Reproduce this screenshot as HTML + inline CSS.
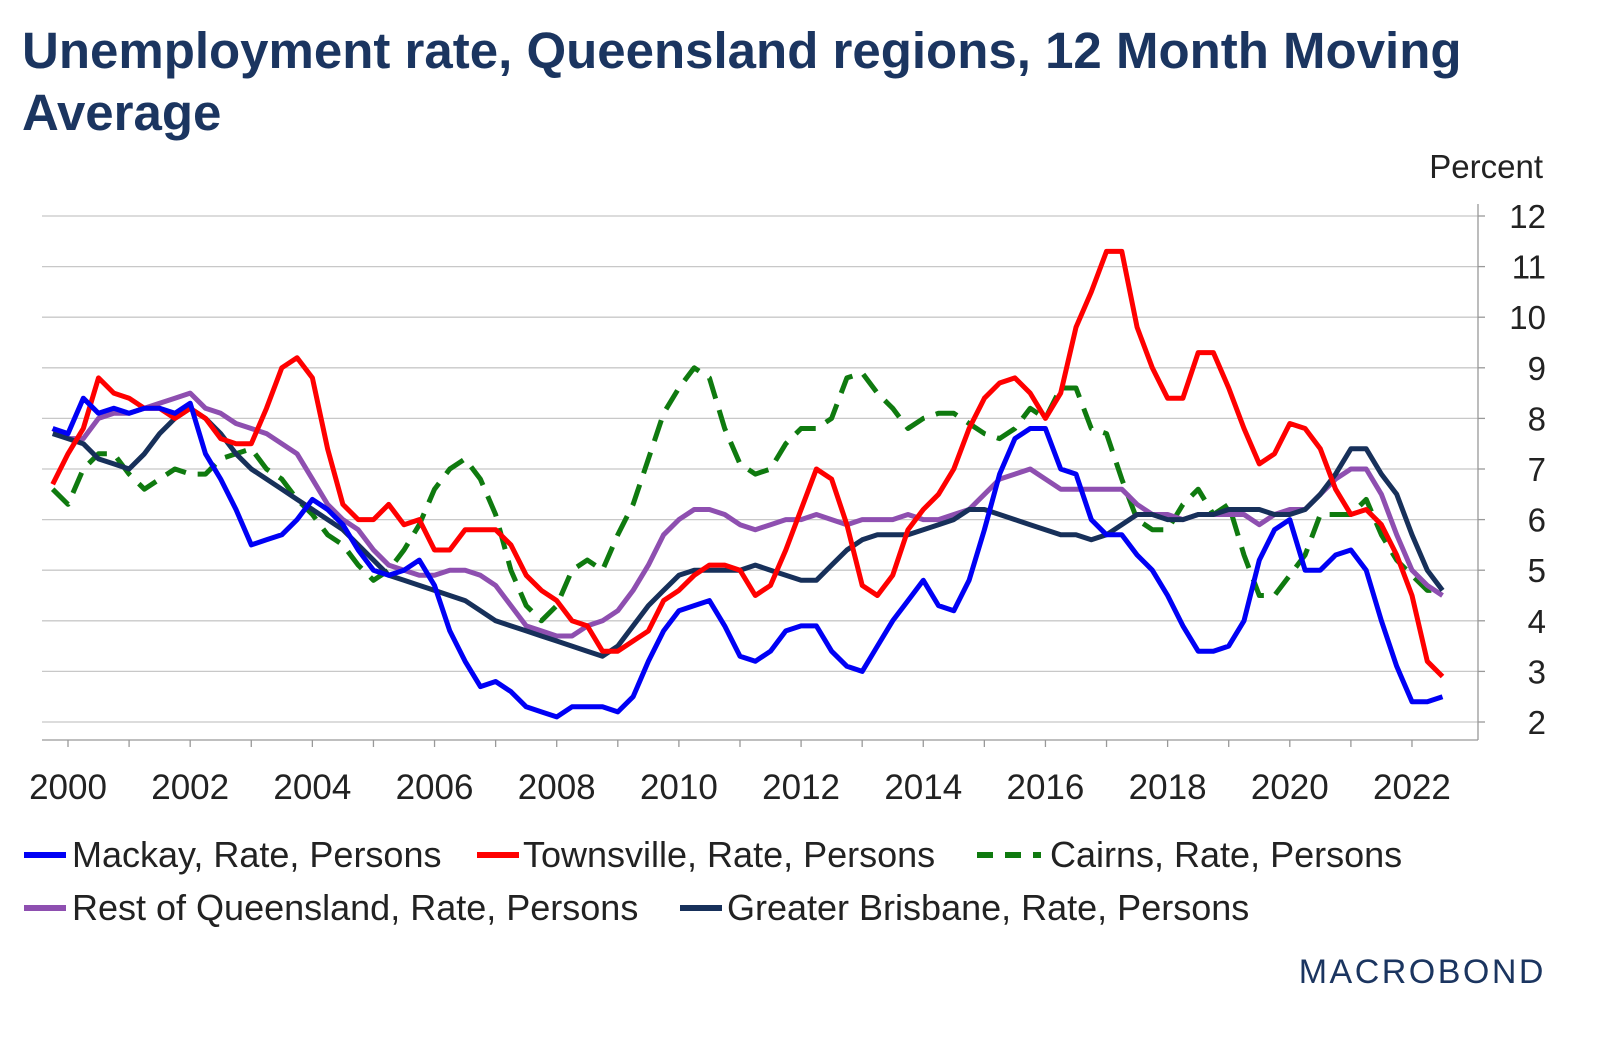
<!DOCTYPE html>
<html><head><meta charset="utf-8"><style>
body{margin:0;background:#fff;font-family:"Liberation Sans",Arial,sans-serif;}
#wrap{position:relative;width:1600px;height:1040px;overflow:hidden;}
h1{position:absolute;left:22px;top:20px;margin:0;font-size:51px;line-height:62px;font-weight:bold;color:#1b3560;width:1540px;}
</style></head><body>
<div id="wrap">
<h1>Unemployment rate, Queensland regions, 12 Month Moving Average</h1>
<svg id="chart" width="1600" height="1040" style="position:absolute;left:0;top:0"></svg>
</div>
<script>
const startYear=1999.75, step=0.25;
const mackay=[7.8,
7.7,8.4,8.1,8.2, 8.1,8.2,8.2,8.1, 8.3,7.3,6.8,6.2, 5.5,5.6,5.7,6.0, 6.4,6.2,5.9,5.4, 5.0,4.9,5.0,5.2, 4.7,3.8,3.2,2.7, 2.8,2.6,2.3,2.2, 2.1,2.3,2.3,2.3, 2.2,2.5,3.2,3.8, 4.2,4.3,4.4,3.9, 3.3,3.2,3.4,3.8, 3.9,3.9,3.4,3.1, 3.0,3.5,4.0,4.4, 4.8,4.3,4.2,4.8, 5.8,6.9,7.6,7.8, 7.8,7.0,6.9,6.0, 5.7,5.7,5.3,5.0, 4.5,3.9,3.4,3.4, 3.5,4.0,5.2,5.8, 6.0,5.0,5.0,5.3, 5.4,5.0,4.0,3.1,
2.4,2.4,2.5];
const townsville=[6.7,
7.3,7.8,8.8,8.5, 8.4,8.2,8.2,8.0, 8.2,8.0,7.6,7.5, 7.5,8.2,9.0,9.2, 8.8,7.4,6.3,6.0, 6.0,6.3,5.9,6.0, 5.4,5.4,5.8,5.8, 5.8,5.5,4.9,4.6, 4.4,4.0,3.9,3.4, 3.4,3.6,3.8,4.4, 4.6,4.9,5.1,5.1, 5.0,4.5,4.7,5.4, 6.2,7.0,6.8,5.9, 4.7,4.5,4.9,5.8, 6.2,6.5,7.0,7.8, 8.4,8.7,8.8,8.5, 8.0,8.5,9.8,10.5, 11.3,11.3,9.8,9.0, 8.4,8.4,9.3,9.3, 8.6,7.8,7.1,7.3, 7.9,7.8,7.4,6.6, 6.1,6.2,5.9,5.3,
4.5,3.2,2.9];
const cairns=[6.6,
6.3,7.0,7.3,7.3, 6.9,6.6,6.8,7.0, 6.9,6.9,7.2,7.3, 7.4,7.0,6.8,6.4, 6.1,5.7,5.5,5.1, 4.8,5.0,5.4,5.9, 6.6,7.0,7.2,6.8, 6.1,5.0,4.3,4.0, 4.3,5.0,5.2,5.0, 5.7,6.3,7.2,8.1, 8.6,9.0,8.8,7.8, 7.1,6.9,7.0,7.5, 7.8,7.8,8.0,8.8, 8.9,8.5,8.2,7.8, 8.0,8.1,8.1,7.9, 7.7,7.6,7.8,8.2, 8.0,8.6,8.6,7.8, 7.7,6.8,6.0,5.8, 5.8,6.3,6.6,6.1, 6.3,5.3,4.5,4.5, 4.9,5.3,6.1,6.1, 6.1,6.4,5.7,5.2,
4.9,4.6,4.6];
const restQld=[7.8,
7.6,7.6,8.0,8.1, 8.1,8.2,8.3,8.4, 8.5,8.2,8.1,7.9, 7.8,7.7,7.5,7.3, 6.8,6.3,6.0,5.8, 5.4,5.1,5.0,4.9, 4.9,5.0,5.0,4.9, 4.7,4.3,3.9,3.8, 3.7,3.7,3.9,4.0, 4.2,4.6,5.1,5.7, 6.0,6.2,6.2,6.1, 5.9,5.8,5.9,6.0, 6.0,6.1,6.0,5.9, 6.0,6.0,6.0,6.1, 6.0,6.0,6.1,6.2, 6.5,6.8,6.9,7.0, 6.8,6.6,6.6,6.6, 6.6,6.6,6.3,6.1, 6.1,6.0,6.1,6.1, 6.1,6.1,5.9,6.1, 6.2,6.2,6.5,6.8, 7.0,7.0,6.5,5.7,
5.0,4.7,4.5];
const brisbane=[7.7,
7.6,7.5,7.2,7.1, 7.0,7.3,7.7,8.0, 8.2,8.0,7.7,7.3, 7.0,6.8,6.6,6.4, 6.2,6.0,5.8,5.5, 5.2,4.9,4.8,4.7, 4.6,4.5,4.4,4.2, 4.0,3.9,3.8,3.7, 3.6,3.5,3.4,3.3, 3.5,3.9,4.3,4.6, 4.9,5.0,5.0,5.0, 5.0,5.1,5.0,4.9, 4.8,4.8,5.1,5.4, 5.6,5.7,5.7,5.7, 5.8,5.9,6.0,6.2, 6.2,6.1,6.0,5.9, 5.8,5.7,5.7,5.6, 5.7,5.9,6.1,6.1, 6.0,6.0,6.1,6.1, 6.2,6.2,6.2,6.1, 6.1,6.2,6.5,6.9, 7.4,7.4,6.9,6.5,
5.7,5.0,4.6];
const yTicks=[2,3,4,5,6,7,8,9,10,11,12];
const xTicks=[2000,2002,2004,2006,2008,2010,2012,2014,2016,2018,2020,2022];
const seriesNames=["Mackay, Rate, Persons","Townsville, Rate, Persons","Cairns, Rate, Persons","Rest of Queensland, Rate, Persons","Greater Brisbane, Rate, Persons"];

const NS="http://www.w3.org/2000/svg";
const svg=document.getElementById('chart');
function X(yr){return 68+(yr-2000)*61.09;}
function Y(v){return 722-(v-2)*50.6;}
function mk(tag,attrs,parent){const e=document.createElementNS(NS,tag);for(const k in attrs)e.setAttribute(k,attrs[k]);(parent||svg).appendChild(e);return e;}
const L=42,R=1478;
yTicks.forEach(t=>{
  const g=mk('line',{x1:L,x2:R,y1:Y(t),y2:Y(t),stroke:'#c8c8c8','stroke-width':1.3});
  
  
  mk('line',{x1:R,x2:R+7,y1:Y(t),y2:Y(t),stroke:'#999','stroke-width':1.3});
  const tx=mk('text',{x:1546,y:Y(t)+12,'text-anchor':'end','font-size':33,fill:'#222'});
  tx.textContent=t;
  
  
});
mk('line',{x1:R,x2:R,y1:Y(12)-12,y2:740,stroke:'#999','stroke-width':1.3});
mk('line',{x1:L,x2:R,y1:740,y2:740,stroke:'#999','stroke-width':1.3});
const unit=mk('text',{x:1543,y:178,'text-anchor':'end','font-size':33,fill:'#222'});
unit.textContent='Percent';


for(let yr=2000;yr<=2022;yr++){mk('line',{x1:X(yr),x2:X(yr),y1:740,y2:747,stroke:'#999','stroke-width':1.3});}
xTicks.forEach(t=>{
  const tx=mk('text',{x:X(t),y:799,'text-anchor':'middle','font-size':35,fill:'#222'});
  tx.textContent=t;
  
  
});
function draw(arr,color,name,dash){
  const d=arr.map((v,i)=>(i?'L':'M')+X(startYear+i*step).toFixed(1)+','+Y(v).toFixed(1)).join(' ');
  const p=mk('path',{d:d,fill:'none',stroke:color,'stroke-width':5,'stroke-linejoin':'round'});
  if(dash)p.setAttribute('stroke-dasharray',dash);
  
  
}
draw(cairns,'#0f7a0f','series-cairns','22,12');
draw(restQld,'#8e4fb0','series-rest-of-queensland');
draw(brisbane,'#17305a','series-greater-brisbane');
draw(townsville,'#f00','series-townsville');
draw(mackay,'#0000f5','series-mackay');
const leg=[[22,867,'#0000f5',null,0,44,50],[475,867,'#f00',null,1,44,48],[975,867,'#0f7a0f','16,12',2,66,75],[22,920,'#8e4fb0',null,3,44,50],[678,920,'#17305a',null,4,44,49]];
leg.forEach(l=>{
  const g=mk('g',{});
  
  
  const ln=mk('line',{x1:l[0]+2,x2:l[0]+l[5],y1:l[1]-12,y2:l[1]-12,stroke:l[2],'stroke-width':6},g);
  if(l[3])ln.setAttribute('stroke-dasharray',l[3]);
  const t=mk('text',{x:l[0]+l[6],y:l[1],'font-size':36,fill:'#222'},g);
  t.textContent=seriesNames[l[4]];
});
const logo=mk('text',{x:1546,y:983,'text-anchor':'end','font-size':34,fill:'#1b3560','letter-spacing':2.5});
logo.textContent='MACROBOND';


</script>
</body></html>
